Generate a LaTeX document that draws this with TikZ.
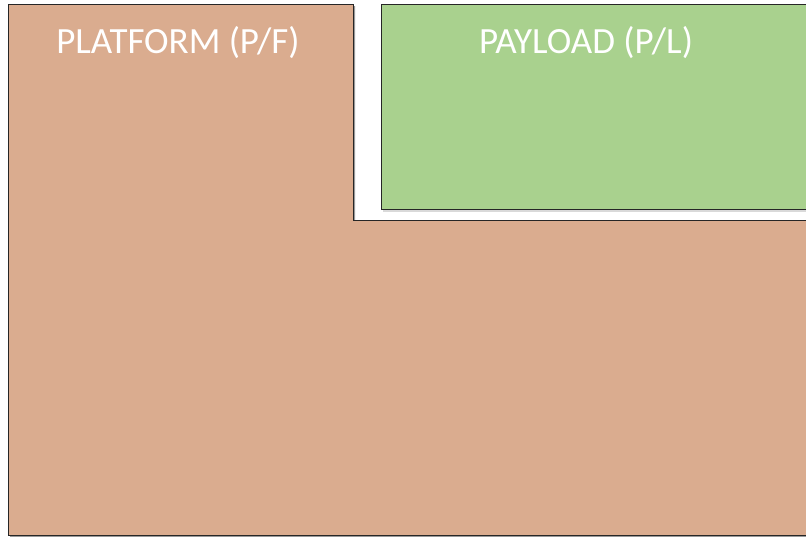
\documentclass[tikz,border=0pt]{standalone}
\usepackage{fontspec}
\setmainfont{Carlito}
\definecolor{pfcol}{HTML}{DAAC8F}
\definecolor{plcol}{HTML}{A9D18E}
\begin{document}
\begin{tikzpicture}[x=1pt,y=-1pt,
  blk/.style={draw=black!85,line width=0.9pt},
  lbl/.style={text=white,font=\fontsize{37}{40}\selectfont,anchor=base,inner sep=0pt}]
\clip (0,0) rectangle (806,536);
\fill[white] (0,0) rectangle (806,536);
\fill[black!40] (10,6) -- (355,6) -- (355,222) -- (812,222) -- (812,540) -- (10,540) -- cycle;
\path[blk,fill=pfcol] (8,4) -- (353,4) -- (353,220) -- (810,220) -- (810,535) -- (8,535) -- cycle;
\fill[black!15] (383,6) rectangle (812,212);
\path[blk,fill=plcol] (381.5,4) rectangle (810,209);
\node[lbl] (pf) at (178,53) {PLATFORM (P/F)};
\node[lbl] (pl) at (586,53) {PAYLOAD (P/L)};
\end{tikzpicture}
\end{document}
